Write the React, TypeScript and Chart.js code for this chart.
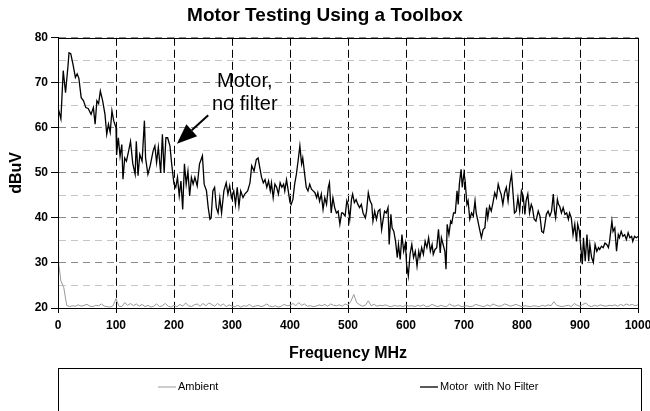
import { useEffect, useRef } from 'react';
import { Chart, registerables } from 'chart.js';

Chart.register(...registerables);

const FONT = 'Arial, "Liberation Sans", sans-serif';

const chartTitle = 'Motor Testing Using a Toolbox';
const xAxisTitle = 'Frequency MHz';
const yAxisTitle = 'dBuV';
const seriesLabels = ['Ambient', 'Motor  with No Filter'];

const motorFreq = [
  0, 5, 9, 13, 17, 19, 22, 26, 30, 33, 36, 40, 44, 48, 52, 57, 61, 64, 67, 70,
  73, 77, 81, 84, 87, 90, 93, 96, 100, 101, 104, 107, 110, 112, 115, 118, 122, 125, 129, 133,
  135, 138, 141, 145, 149, 151, 155, 159, 164, 167, 170, 173, 177, 180, 183, 186, 189, 193, 196, 198,
  200, 203, 206, 209, 212, 215, 218, 221, 224, 227, 230, 233, 236, 240, 244, 246, 249, 252, 256, 259,
  262, 264, 267, 270, 273, 276, 279, 282, 286, 290, 293, 296, 299, 303, 306, 309, 312, 315, 319, 322,
  327, 331, 334, 338, 342, 345, 348, 351, 354, 357, 360, 363, 366, 368, 371, 374, 377, 380, 383, 386,
  389, 391, 394, 397, 400, 402, 405, 408, 411, 414, 417, 420, 422, 425, 428, 431, 434, 437, 440, 443,
  446, 448, 451, 454, 457, 460, 463, 466, 468, 471, 474, 477, 480, 483, 486, 489, 491, 495, 498, 500,
  503, 506, 508, 511, 514, 517, 520, 523, 526, 530, 532, 535, 538, 541, 543, 546, 549, 552, 555, 558,
  561, 563, 566, 569, 571, 574, 576, 579, 582, 585, 587, 590, 593, 596, 599, 601, 604, 607, 610, 613,
  616, 619, 622, 624, 627, 630, 633, 636, 639, 642, 645, 647, 650, 653, 656, 659, 661, 664, 667, 669,
  671, 674, 677, 679, 682, 685, 688, 690, 692, 695, 697, 700, 702, 705, 707, 710, 713, 716, 719, 721,
  724, 727, 730, 733, 736, 739, 741, 744, 747, 750, 753, 756, 759, 762, 764, 767, 770, 773, 776, 779,
  782, 784, 787, 790, 793, 796, 799, 802, 805, 807, 810, 813, 816, 818, 821, 824, 828, 831, 834, 837,
  839, 842, 845, 848, 851, 854, 856, 858, 861, 863, 865, 868, 871, 874, 877, 880, 882, 885, 888, 891,
  894, 896, 899, 901, 904, 906, 909, 912, 915, 917, 920, 923, 926, 929, 932, 934, 937, 940, 943, 946,
  949, 951, 955, 957, 960, 963, 966, 968, 971, 974, 977, 980, 983, 986, 989, 991, 994, 997, 1000,
];

const motorValues = [
  64.5, 62, 72.7, 67.8, 73.4, 76.7, 76.5, 74, 71.2, 72, 71, 66.7, 66, 64.5, 64.3, 63, 64.5, 60.8, 66, 65.4,
  68.2, 66, 63, 58.6, 60.8, 59, 63.8, 61.6, 60, 54, 57.8, 53.7, 56.3, 48.6, 53.3, 52.6, 55, 57, 52, 49.7,
  57, 49.4, 54.1, 52.6, 61.6, 53.3, 49.7, 51.6, 54.9, 56, 52.3, 55.7, 50, 58.6, 50, 57.8, 57.8, 56, 52, 49.7,
  47.5, 46.8, 49, 44.9, 48.2, 41.9, 52, 47.5, 50.4, 44.9, 49, 47.5, 49, 47.1, 52, 52.7, 53.8, 47.5, 46, 42.3,
  39.7, 40, 46, 46.8, 42.3, 41.1, 44.5, 41.1, 46, 47.8, 45.3, 47.1, 44.5, 46, 43, 46.8, 42.6, 46, 44.5, 45.3,
  46, 47.8, 51.6, 50.4, 53, 53.3, 51.1, 49, 47.8, 48.5, 46.8, 48.2, 46, 47.8, 44.5, 47.5, 46.8, 45.3, 47.8, 46.8,
  47.5, 46, 48.5, 46, 43.4, 43, 44.1, 47.5, 49.7, 52.7, 56, 52, 53.3, 50, 46.8, 46, 47.5, 46.4, 46, 45.6,
  44.5, 45.6, 43.7, 45.3, 41.9, 44.5, 43, 46.8, 47.8, 41.1, 44.5, 42.3, 41.1, 41.5, 38.6, 41.1, 41.1, 40.4, 43.8, 43,
  39.7, 44.1, 45.3, 43.4, 44.1, 43, 42.3, 43, 41.1, 40, 41.5, 45.6, 43.8, 43, 39.3, 41.5, 39.7, 41.5, 41.9, 37.4,
  40, 41.5, 41.1, 42.3, 34.1, 40.8, 37.8, 37, 34.8, 31.2, 34.1, 30.8, 36.3, 32.6, 34.4, 29.7, 27.1, 32, 34.1, 31.2,
  32.6, 29.3, 32.6, 31.2, 33.4, 31.9, 34.8, 33.4, 35.6, 32.6, 34.1, 31.9, 33, 33.4, 37.5, 32.2, 35.6, 34.1, 32.6, 28.6,
  38.6, 36.3, 39.3, 38.9, 41.1, 41.1, 46, 43, 47.5, 50.8, 46.8, 50, 48.2, 43, 43.8, 39.7, 41.1, 40.4, 43.8, 41.1,
  39.3, 37.4, 35.6, 37.4, 37.8, 42.3, 40, 42.6, 41.5, 43.4, 45.6, 44.5, 47.5, 46, 45.3, 43, 45.6, 46.8, 43.8, 47.5,
  49.7, 46.4, 41.1, 41.5, 44.5, 41.5, 46, 44.9, 40.8, 43.8, 45.3, 41.1, 43, 42.3, 39.7, 39.3, 41.5, 40.4, 37, 36.7,
  38.2, 40.8, 41.5, 40.4, 41.5, 45.3, 41.5, 40, 44.1, 43, 42.6, 41.1, 42.3, 40.8, 41.1, 39.7, 41.1, 40, 36.3, 38.6,
  34.8, 38.6, 37, 34.1, 29.7, 35.6, 30.4, 36.3, 30.4, 34.1, 31.2, 30.1, 34.1, 32.6, 33.4, 33, 33.7, 33.4, 34.4, 34.1,
  33.4, 34.8, 39.3, 37, 37.8, 32.6, 36.3, 35.6, 37, 35.9, 36.3, 35.2, 36.7, 35.6, 35.9, 34.8, 35.9, 35.6, 35.9,
];

const ambientFreq = [
  0, 5, 10, 15, 20, 25, 30, 35, 40, 45, 50, 55, 60, 65, 70, 75, 80, 85, 90, 95,
  100, 105, 110, 115, 120, 125, 130, 135, 140, 145, 150, 155, 160, 165, 170, 175, 180, 185, 190, 195,
  200, 205, 210, 215, 220, 225, 230, 235, 240, 245, 250, 255, 260, 265, 270, 275, 280, 285, 290, 295,
  300, 305, 310, 315, 320, 325, 330, 335, 340, 345, 350, 355, 360, 365, 370, 375, 380, 385, 390, 395,
  400, 405, 410, 415, 420, 425, 430, 435, 440, 445, 450, 455, 460, 465, 470, 475, 480, 485, 490, 495,
  500, 505, 510, 515, 520, 525, 530, 535, 540, 545, 550, 555, 560, 565, 570, 575, 580, 585, 590, 595,
  600, 605, 610, 615, 620, 625, 630, 635, 640, 645, 650, 655, 660, 665, 670, 675, 680, 685, 690, 695,
  700, 705, 710, 715, 720, 725, 730, 735, 740, 745, 750, 755, 760, 765, 770, 775, 780, 785, 790, 795,
  800, 805, 810, 815, 820, 825, 830, 835, 840, 845, 850, 855, 860, 865, 870, 875, 880, 885, 890, 895,
  900, 905, 910, 915, 920, 925, 930, 935, 940, 945, 950, 955, 960, 965, 970, 975, 980, 985, 990, 995,
  1000,
];

const ambientValues = [
  31, 26, 24.5, 20.6, 20.3, 20.5, 20.4, 20.7, 20.4, 20.6, 20.8, 20.4, 20.3, 20.6, 20.5, 20.9, 20.4, 20.3, 20.2, 20.5,
  22.1, 20.4, 20.3, 21.2, 20.6, 21.0, 20.5, 20.9, 20.4, 20.8, 20.3, 20.6, 20.2, 20.4, 20.9, 20.3, 20.5, 21.0, 20.4, 20.2,
  20.6, 20.3, 20.8, 20.4, 21.1, 20.5, 20.3, 20.7, 20.9, 20.4, 21.0, 20.5, 21.1, 20.8, 20.4, 21.0, 20.5, 20.9, 20.3, 20.7,
  20.4, 20.3, 20.6, 20.2, 20.5, 20.4, 20.8, 20.3, 20.4, 20.6, 20.3, 20.5, 20.9, 20.4, 20.3, 20.5, 20.2, 20.4, 20.8, 20.5,
  20.6, 21.0, 20.5, 21.2, 20.6, 20.9, 20.4, 20.5, 20.3, 20.4, 20.7, 20.5, 20.8, 20.4, 20.9, 20.6, 20.5, 20.7, 20.4, 20.9,
  20.6, 21.5, 23.0, 21.2, 20.7, 20.4, 20.6, 21.6, 20.5, 20.8, 20.4, 20.6, 20.5, 20.7, 20.4, 20.3, 20.6, 20.4, 20.5, 20.3,
  20.7, 20.4, 20.5, 20.3, 20.6, 20.4, 20.7, 20.3, 20.4, 20.8, 20.5, 20.3, 20.6, 20.4, 20.3, 20.9, 20.5, 20.4, 20.7, 20.3,
  20.4, 20.5, 20.3, 20.4, 20.8, 20.6, 20.4, 20.3, 20.7, 20.4, 20.9, 20.6, 20.4, 20.5, 20.9, 20.7, 20.4, 20.6, 20.8, 20.5,
  20.3, 20.5, 20.4, 20.3, 20.5, 20.4, 20.3, 20.6, 20.4, 20.7, 20.5, 21.4, 20.6, 20.4, 20.3, 20.5, 20.6, 20.3, 21.0, 20.6,
  20.4, 20.8, 21.1, 20.5, 20.3, 20.6, 20.4, 20.7, 20.5, 20.4, 20.6, 20.5, 20.7, 20.4, 20.8, 20.5, 20.9, 20.6, 20.8, 20.5,
  20.7,
];

// annotation: text lines, text anchor (MHz, dBuV), arrow tip & tail (MHz, dBuV)
const annotationLines = ['Motor,', 'no filter'];
const annotationTextAt = [322, 70.2];
const arrowTip = [205, 56.5];
const arrowTail = [259, 62.8];

const decorPlugin = {
  id: 'decor',
  afterDatasetsDraw(chart: any) {
    const { ctx, chartArea: a, scales } = chart;
    const xs = scales.x;
    const ys = scales.y;
    ctx.save();
    // plot frame
    ctx.strokeStyle = '#000';
    ctx.lineWidth = 1;
    ctx.setLineDash([]);
    ctx.strokeRect(Math.round(a.left) + 0.5, Math.round(a.top) + 0.5, Math.round(a.right) - Math.round(a.left), Math.round(a.bottom) - Math.round(a.top));

    // annotation text
    ctx.fillStyle = '#000';
    ctx.font = `20px ${FONT}`;
    ctx.textAlign = 'center';
    ctx.textBaseline = 'middle';
    const tx = xs.getPixelForValue(annotationTextAt[0]);
    const ty = ys.getPixelForValue(annotationTextAt[1]);
    annotationLines.forEach((line, i) => ctx.fillText(line, tx, ty + i * 22.5));

    // arrow
    const x1 = xs.getPixelForValue(arrowTail[0]);
    const y1 = ys.getPixelForValue(arrowTail[1]);
    const x2 = xs.getPixelForValue(arrowTip[0]);
    const y2 = ys.getPixelForValue(arrowTip[1]);
    const ang = Math.atan2(y2 - y1, x2 - x1);
    const headLen = 20;
    const headHalf = 8;
    const bx = x2 - headLen * Math.cos(ang);
    const by = y2 - headLen * Math.sin(ang);
    ctx.lineWidth = 2;
    ctx.beginPath();
    ctx.moveTo(x1, y1);
    ctx.lineTo(bx, by);
    ctx.stroke();
    ctx.beginPath();
    ctx.moveTo(x2, y2);
    ctx.lineTo(bx + headHalf * Math.sin(ang), by - headHalf * Math.cos(ang));
    ctx.lineTo(bx - headHalf * Math.sin(ang), by + headHalf * Math.cos(ang));
    ctx.closePath();
    ctx.fill();
    ctx.restore();
  },
  afterDraw(chart: any) {
    const { ctx, chartArea: a } = chart;
    ctx.save();
    const left = Math.round(a.left) + 0.5;
    const right = Math.round(a.right) + 3.5;
    const top = Math.round(a.bottom) + 60.5;
    ctx.strokeStyle = '#000';
    ctx.lineWidth = 1;
    ctx.setLineDash([]);
    ctx.strokeRect(left, top, right - left, 100);
    const w = a.right - a.left;
    const starts = [a.left + w * 0.1724, a.left + w * 0.6241];
    const ly = top + 18;
    ctx.font = `11px ${FONT}`;
    ctx.textAlign = 'left';
    ctx.textBaseline = 'middle';
    chart.data.datasets.forEach((ds: any, i: number) => {
      const sx = starts[i];
      ctx.strokeStyle = ds.borderColor;
      ctx.lineWidth = ds.borderWidth;
      ctx.beginPath();
      ctx.moveTo(sx, ly + 0.5);
      ctx.lineTo(sx + 18, ly + 0.5);
      ctx.stroke();
      ctx.fillStyle = '#000';
      ctx.fillText(ds.label, sx + 20, ly);
    });
    ctx.restore();
  },
};

export default function App() {
  const ref = useRef<HTMLCanvasElement | null>(null);
  useEffect(() => {
    if (!ref.current) return;
    const tickFont = { family: FONT, size: 12, weight: 'bold' as const };
    const axisTitleFont = { family: FONT, size: 16, weight: 'bold' as const };
    const chart = new Chart(ref.current, {
      type: 'line',
      data: {
        datasets: [
          {
            label: seriesLabels[0],
            data: ambientFreq.map((f, i) => ({ x: f, y: ambientValues[i] })),
            borderColor: '#9a9a9a',
            borderWidth: 1,
            pointRadius: 0,
            tension: 0,
            fill: false,
          },
          {
            label: seriesLabels[1],
            data: motorFreq.map((f, i) => ({ x: f, y: motorValues[i] })),
            borderColor: '#000000',
            borderWidth: 1.3,
            pointRadius: 0,
            tension: 0,
            fill: false,
          },
        ],
      },
      options: {
        animation: false,
        responsive: false,
        maintainAspectRatio: false,
        devicePixelRatio: 1,
        layout: { padding: 0 },
        plugins: {
          legend: { display: false },
          tooltip: { enabled: false },
          title: {
            display: true,
            text: chartTitle,
            color: '#000',
            font: { family: FONT, size: 19, weight: 'bold' },
            padding: { top: 4, bottom: 11 },
          },
        },
        scales: {
          x: {
            type: 'linear',
            min: 0,
            max: 1000,
            ticks: {
              stepSize: 100,
              color: '#000',
              font: tickFont,
              padding: 5,
              maxRotation: 0,
              autoSkip: false,
              callback: (v: any) => String(v),
            },
            grid: { color: '#000', tickColor: '#000', tickLength: 5, lineWidth: 1 },
            border: { display: true, color: '#000', width: 1, dash: [8, 4] },
            title: {
              display: true,
              text: xAxisTitle,
              color: '#000',
              font: axisTitleFont,
              padding: { top: 0, bottom: 48 },
            },
            afterFit: (s: any) => {
              s.height = 103;
              s.paddingRight = 12;
              s.paddingLeft = 0;
            },
          },
          y: {
            min: 20,
            max: 80,
            ticks: {
              stepSize: 5,
              color: '#000',
              font: tickFont,
              padding: 3,
              callback: (v: any) => (Number(v) % 10 === 0 ? String(v) : ''),
            },
            grid: {
              color: (c: any) => (c.tick && c.tick.value % 10 === 0 ? '#8a8a8a' : '#c6c6c6'),
              tickColor: (c: any) => (c.tick && c.tick.value % 10 === 0 ? '#000' : 'rgba(0,0,0,0)'),
              tickLength: 7,
              lineWidth: 1,
            },
            border: { display: true, color: '#000', width: 1, dash: [7, 5] },
            title: {
              display: true,
              text: yAxisTitle,
              color: '#000',
              font: axisTitleFont,
              padding: { top: 7, bottom: 0 },
            },
            afterFit: (s: any) => {
              s.width = 58;
            },
          },
        },
      },
      plugins: [decorPlugin],
    });
    return () => chart.destroy();
  }, []);
  return (
    <div style={{ position: 'fixed', left: 0, top: 0, width: 650, height: 411, background: '#fff' }}>
      <canvas ref={ref} width={650} height={411} style={{ display: 'block', width: 650, height: 411 }} />
    </div>
  );
}
